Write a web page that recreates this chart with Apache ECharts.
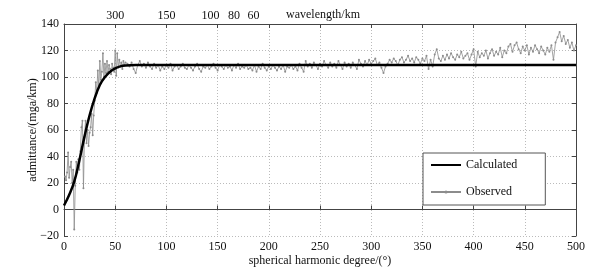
<!DOCTYPE html>
<html>
<head>
<meta charset="utf-8">
<script src="https://cdn.jsdelivr.net/npm/echarts@6/dist/echarts.min.js"></script>
<style>
  html, body { margin: 0; padding: 0; background: #fff; }
  #chart { width: 600px; height: 270px; }
</style>
</head>
<body>
<div id="chart"></div>
<script>
// calculated admittance, read at a few degrees
const calcDegrees = [0, 5, 10, 15, 20, 25, 30, 35, 40, 45, 50, 55, 60, 70, 100, 200, 300, 400, 500];
const calcValues = [3, 11, 21, 37, 55, 71, 84, 94, 100, 104, 106.5, 108, 108.7, 109, 109, 109, 109, 109, 109];

// observed admittance, degrees 1..60 (step 1)
const obsEarly = [
  25, 22, 28, 43, 24, 32, 36, 20, 30, -15,
  18, 36, 28, 38, 30, 44, 62, 67, 16, 55,
  67, 50, 60, 48, 58, 62, 72, 56, 71, 82,
  96, 88, 105, 92, 112, 98, 104, 118, 100, 110,
  103, 112, 104, 109, 106, 102, 110, 107, 104, 120,
  101, 118, 107, 113, 108, 111, 106, 112, 109, 111
];
// observed admittance, degrees 62..500 (step 2)
const obsLate = [
  110, 108, 111, 106, 103, 109, 112, 108, 110, 107,
  111, 108, 106, 110, 107, 109, 105, 108, 106, 109,
  107, 110, 105, 108, 109, 106, 108, 110, 107, 106,
  109, 107, 105, 108, 110, 106, 104, 108, 107, 109,
  106, 108, 110, 107, 105, 109, 108, 106, 109, 107,
  108, 105, 109, 107, 110, 106, 108, 107, 109, 106,
  107, 105, 109, 104, 108, 106, 110, 107, 105, 108,
  106, 109, 107, 105, 108, 106, 109, 104, 108, 107,
  109, 106, 108, 105, 110, 107, 104, 112, 108, 110,
  107, 111, 109, 106, 110, 108, 112, 109, 107, 111,
  108, 110, 107, 112, 109, 106, 111, 108, 110, 107,
  111, 109, 106, 113, 110, 108, 112, 109, 113, 110,
  112, 114, 109, 111, 107, 103, 108, 110, 113, 111,
  114, 112, 109, 113, 115, 111, 113, 116, 112, 114,
  111, 115, 113, 110, 114, 112, 116, 106, 113, 108,
  117, 121, 114, 112, 116, 113, 117, 114, 118, 115,
  113, 117, 115, 119, 114, 116, 118, 113, 117, 121,
  108, 119, 115, 118, 116, 120, 114, 118, 121, 116,
  119, 117, 122, 115, 120, 118, 123, 125, 119, 124,
  126, 121, 118, 123, 120, 124, 117, 122, 119, 124,
  121, 118, 123, 120, 117, 122, 119, 124, 113, 126,
  130, 134, 127, 131, 125, 128, 122, 126, 120, 124
];

// top axis: wavelength labels and the degree they sit at
const waveDegrees = [50, 100, 143, 166, 185];
const waveLabels = ['300', '150', '100', '80', '60'];

const calcData = calcDegrees.map((d, i) => [d, calcValues[i]]);
const obsData = obsEarly.map((v, i) => [i + 1, v])
  .concat(obsLate.map((v, i) => [62 + i * 2, v]));

const font = 'Liberation Serif, Times New Roman, serif';
const axisColor = '#444';
const txt = { color: '#111', fontFamily: font, fontSize: 12 };

const chart = echarts.init(document.getElementById('chart'));
chart.setOption({
  animation: false,
  backgroundColor: '#fff',
  textStyle: { fontFamily: font },
  grid: { left: 64, right: 24, top: 24, bottom: 34, outerBoundsMode: 'none', containLabel: false },
  legend: {
    orient: 'vertical',
    left: 423,
    top: 153,
    padding: [6, 28, 7, 7],
    itemWidth: 30,
    itemHeight: 4,
    itemGap: 15,
    backgroundColor: '#fff',
    borderColor: '#555',
    borderWidth: 1,
    borderRadius: 0,
    textStyle: txt,
    data: [
      { name: 'Calculated', itemStyle: { opacity: 0 } },
      { name: 'Observed' }
    ]
  },
  xAxis: [
    {
      type: 'value', position: 'bottom', min: 0, max: 500, interval: 50,
      name: 'spherical harmonic degree/(°)', nameLocation: 'middle', nameGap: 19,
      nameMoveOverlap: false,
      nameTextStyle: txt,
      axisLine: { lineStyle: { color: axisColor, width: 1 } },
      axisTick: { inside: true, length: 4, lineStyle: { color: axisColor } },
      axisLabel: Object.assign({ margin: 5 }, txt),
      splitLine: { show: true, lineStyle: { color: '#bbb', type: [1, 2], width: 1 } }
    },
    {
      type: 'value', position: 'top', min: 0, max: 500, interval: 50,
      name: 'wavelength/km', nameLocation: 'middle', nameGap: 3,
      nameMoveOverlap: false,
      nameTextStyle: Object.assign({}, txt, { padding: [0, 0, 0, 6] }),
      axisLine: { onZero: false, lineStyle: { color: axisColor, width: 1 } },
      axisTick: { inside: true, length: 4, lineStyle: { color: axisColor } },
      axisLabel: Object.assign({
        margin: 2,
        customValues: waveDegrees,
        formatter: (v) => waveLabels[waveDegrees.indexOf(v)] || ''
      }, txt),
      splitLine: { show: false }
    }
  ],
  yAxis: [
    {
      type: 'value', position: 'left', min: -20, max: 140, interval: 20,
      name: 'admittance/(mga/km)', nameLocation: 'middle', nameGap: 25,
      nameMoveOverlap: false,
      nameTextStyle: txt,
      axisLine: { show: true, onZero: false, lineStyle: { color: axisColor, width: 1 } },
      axisTick: { show: true, inside: true, length: 4, lineStyle: { color: axisColor } },
      axisLabel: Object.assign({
        margin: 5,
        formatter: (v) => (v < 0 ? '\u2212' + Math.abs(v) : String(v))
      }, txt),
      splitLine: { show: true, lineStyle: { color: '#bbb', type: [1, 2], width: 1 } }
    },
    {
      type: 'value', position: 'right', min: -20, max: 140, interval: 20,
      axisLine: { show: true, onZero: false, lineStyle: { color: axisColor, width: 1 } },
      axisTick: { show: true, inside: true, length: 4, lineStyle: { color: axisColor } },
      axisLabel: { show: false },
      splitLine: { show: false }
    }
  ],
  series: [
    {
      name: 'Observed',
      type: 'line',
      data: obsData,
      symbol: 'circle',
      symbolSize: 2,
      showSymbol: true,
      lineStyle: { color: '#8c8c8c', width: 0.8 },
      itemStyle: { color: '#8c8c8c' },
      z: 2
    },
    {
      name: 'Calculated',
      type: 'line',
      data: calcData,
      smooth: 0.4,
      symbol: 'none',
      lineStyle: { color: '#000', width: 2.5 },
      itemStyle: { color: '#000' },
      z: 3
    }
  ]
});
</script>
</body>
</html>
